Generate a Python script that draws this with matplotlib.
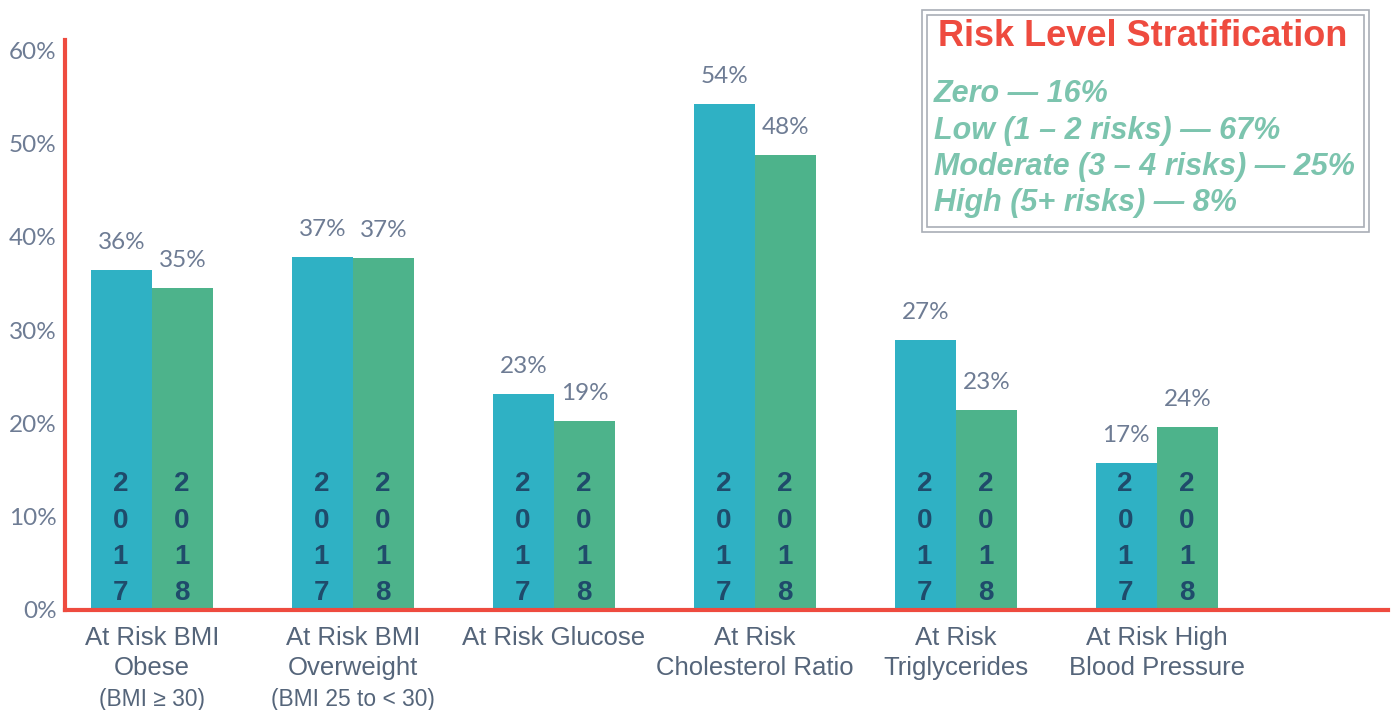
import numpy as np
import matplotlib.pyplot as plt
from matplotlib.patches import Rectangle

categories = ["At Risk BMI\nObese", "At Risk BMI\nOverweight", "At Risk Glucose",
              "At Risk\nCholesterol Ratio", "At Risk\nTriglycerides", "At Risk High\nBlood Pressure"]
subnotes = ["(BMI \u2265 30)", "(BMI 25 to < 30)", "", "", "", ""]
years = ["2017", "2018"]
# bar heights as drawn in the picture
h2017 = [36.4, 37.8, 23.2, 54.2, 28.9, 15.8]
h2018 = [34.5, 37.7, 20.3, 48.8, 21.4, 19.6]
# printed labels (they do not always agree with bar heights)
lab2017 = ["36%", "37%", "23%", "54%", "27%", "17%"]
lab2018 = ["35%", "37%", "19%", "48%", "23%", "24%"]
yticks = [0, 10, 20, 30, 40, 50, 60]
legend_title = "Risk Level Stratification"
legend_lines = ["Zero \u2014 16%", "Low (1 \u2013 2 risks) \u2014 67%",
                "Moderate (3 \u2013 4 risks) \u2014 25%", "High (5+ risks) \u2014 8%"]

c17 = "#2fb1c4"
c18 = "#4db38b"
red = "#ee4b3f"
gray = "#6e7c94"
catgray = "#55657a"
navy = "#1f4b6b"
legg = "#7cc4ae"

fig = plt.figure(figsize=(13.92, 7.1), dpi=100)
ax = fig.add_axes([65 / 1392, 1 - 610 / 710, (1388 - 65) / 1392, 570 / 710])
x = np.arange(len(categories))
w = 0.305
ax.bar(x - w / 2, h2017, w, color=c17, zorder=2)
ax.bar(x + w / 2, h2018, w, color=c18, zorder=2)

ax.set_xlim(-0.433, 6.15)
ax.set_ylim(0, 61.1)
for s in ["top", "right"]:
    ax.spines[s].set_visible(False)
for s in ["left", "bottom"]:
    ax.spines[s].set_color(red)
    ax.spines[s].set_linewidth(3)
    ax.spines[s].set_zorder(3)
ax.set_yticks(yticks)
ax.set_yticklabels([f"{t}%" for t in yticks], fontsize=17.5, color=gray, family="Lato")
ax.tick_params(axis="y", length=0, pad=6)
ax.set_xticks([])

for i in range(len(categories)):
    for xx, hh, lb, yr in [(x[i] - w / 2, h2017[i], lab2017[i], years[0]),
                           (x[i] + w / 2, h2018[i], lab2018[i], years[1])]:
        ax.annotate(lb, (xx, hh), xytext=(0, 17), textcoords="offset pixels",
                    ha="center", va="bottom", fontsize=17.5, color=gray, family="Lato")
        for k, d in enumerate(yr):
            ax.annotate(d, (xx, 0), xytext=(-1, 129 - 36.5 * k), textcoords="offset pixels",
                        ha="center", va="center_baseline", fontsize=20, fontweight="bold",
                        color=navy, family="Liberation Sans", zorder=4)
    ax.annotate(categories[i], (x[i], 0), xytext=(0, -16), textcoords="offset pixels",
                ha="center", va="top", fontsize=18.5, color=catgray,
                family="Liberation Sans", linespacing=1.3, annotation_clip=False)
    if subnotes[i]:
        ax.annotate(subnotes[i], (x[i], 0), xytext=(0, -78), textcoords="offset pixels",
                    ha="center", va="top", fontsize=16.4, color=catgray,
                    family="Liberation Sans", annotation_clip=False)

# legend box
fig.patches.append(Rectangle((922 / 1392, 1 - 232 / 710), 447 / 1392, 222 / 710,
                             transform=fig.transFigure, fill=False, ec="#a9aeb6", lw=1.2))
fig.patches.append(Rectangle((927 / 1392, 1 - 227 / 710), 437 / 1392, 212 / 710,
                             transform=fig.transFigure, fill=False, ec="#a9aeb6", lw=1.2))
fig.text(1143 / 1392, 1 - 37 / 710, legend_title, ha="center", va="center",
         fontsize=26, fontweight="bold", color=red, family="Liberation Sans")
for k, ln in enumerate(legend_lines):
    fig.text(934 / 1392, 1 - (94 + k * 36.5) / 710, ln, ha="left", va="center",
             fontsize=22, fontweight="bold", style="italic", color=legg,
             family="Liberation Sans")

fig.savefig("out.png", dpi=100)
